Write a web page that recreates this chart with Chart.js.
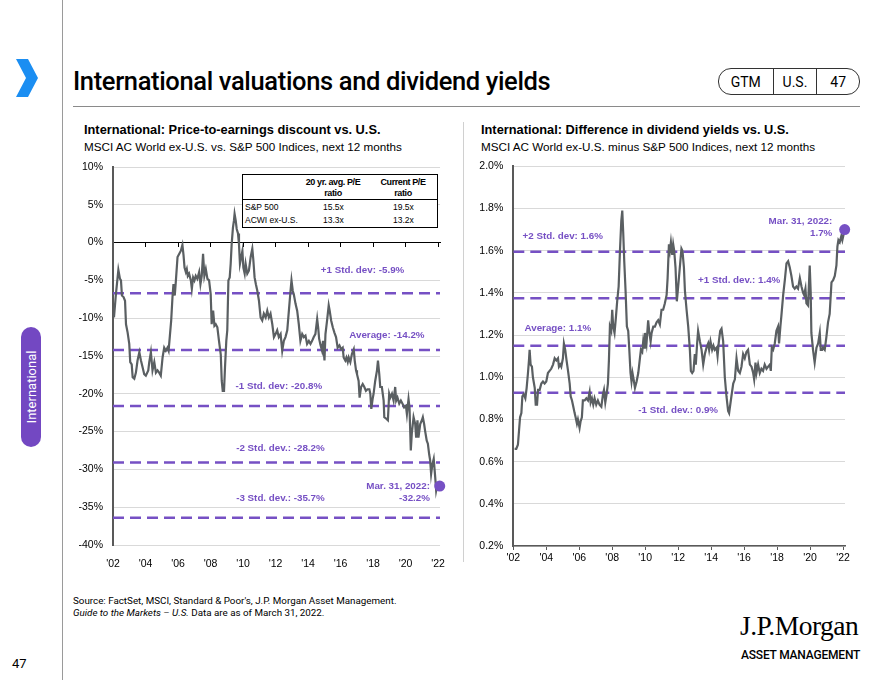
<!DOCTYPE html>
<html>
<head>
<meta charset="utf-8">
<script src="https://cdn.jsdelivr.net/npm/chart.js@4.4.0/dist/chart.umd.min.js"></script>
<style>
  body { margin: 0; width: 880px; height: 680px; position: relative; background: #fff; overflow: hidden;
         font-family: "Liberation Sans", Arial, sans-serif; color: #000; }
  .abs { position: absolute; white-space: nowrap; }
  .head { font-family: Roboto, "Liberation Sans", sans-serif; }
  .ctitle { font-weight: bold; font-size: 12.8px; line-height: 14px; }
  .csub { font-size: 11.7px; line-height: 14px; }
  .pill { left: 718px; top: 68px; width: 140px; height: 25px; border: 1px solid #333; border-radius: 13px; display: flex; font-size: 14px; }
  .pill div { display: flex; align-items: center; justify-content: center; }
  .tbl { left: 242px; top: 174px; width: 194px; height: 52px; border: 1px solid #000; background: #fff; font-size: 8.5px; }
  .tbl .h { position: absolute; font-weight: bold; text-align: center; line-height: 10.5px; font-size: 9px; letter-spacing: -0.4px; }
  .tbl .c { position: absolute; line-height: 10px; }
  canvas { position: absolute; }
</style>
</head>
<body>
<div class="abs" style="left:62px;top:0;width:1px;height:680px;background:#9a9a9a"></div>
<svg class="abs" style="left:16px;top:59px" width="24" height="38" viewBox="0 0 24 38">
  <polygon points="0,0 12,0 22,19 12,38 0,38 10,19" fill="#1b8ef2"/>
</svg>
<div class="abs head" style="left:73px;top:66px;font-size:25.5px;font-weight:500;letter-spacing:-0.35px">International valuations and dividend yields</div>
<div class="abs pill head">
  <div style="width:54px;border-right:1px solid #333">GTM</div>
  <div style="width:43px;border-right:1px solid #333">U.S.</div>
  <div style="width:42px">47</div>
</div>
<div class="abs" style="left:73px;top:106px;width:787px;height:1px;background:#8a8a8a"></div>

<div class="abs ctitle" style="left:84px;top:123px">International: Price-to-earnings discount vs. U.S.</div>
<div class="abs csub" style="left:84px;top:140px">MSCI AC World ex-U.S. vs. S&amp;P 500 Indices, next 12 months</div>
<div class="abs ctitle" style="left:481px;top:123px">International: Difference in dividend yields vs. U.S.</div>
<div class="abs csub" style="left:481px;top:140px">MSCI AC World ex-U.S. minus S&amp;P 500 Indices, next 12 months</div>
<div class="abs" style="left:463px;top:122px;width:1px;height:440px;background:#d0d0d0"></div>

<canvas id="peChart" width="387" height="425" style="left:63px;top:150px"></canvas>
<canvas id="dyChart" width="388" height="426" style="left:465px;top:150px"></canvas>

<div class="abs tbl">
  <div class="h" style="left:56px;top:2px;width:68px">20 yr. avg. P/E<br>ratio</div>
  <div class="h" style="left:128px;top:2px;width:64px">Current P/E<br>ratio</div>
  <div class="abs" style="left:0;top:24px;width:194px;height:1px;background:#000"></div>
  <div class="c" style="left:2px;top:27px">S&amp;P 500</div>
  <div class="c" style="left:80px;top:27px">15.5x</div>
  <div class="c" style="left:150px;top:27px">19.5x</div>
  <div class="c" style="left:2px;top:40px">ACWI ex-U.S.</div>
  <div class="c" style="left:80px;top:40px">13.3x</div>
  <div class="c" style="left:150px;top:40px">13.2x</div>
</div>

<div class="abs" style="left:21px;top:327px;width:20px;height:120px;background:#7348c2;border-radius:10px"></div>
<div class="abs head" style="left:31px;top:387px;transform:translate(-50%,-50%) rotate(-90deg);color:#fff;font-size:13px">International</div>

<div class="abs head" style="left:73px;top:595px;font-size:9.8px;line-height:12px">Source: FactSet, MSCI, Standard &amp; Poor's, J.P. Morgan Asset Management.<br><i>Guide to the Markets – U.S.</i> Data are as of March 31, 2022.</div>
<div class="abs" style="left:740px;top:610px;font-family:'Liberation Serif',serif;font-size:27.5px;letter-spacing:-0.5px">J.P.Morgan</div>
<div class="abs head" style="left:741px;top:648px;font-size:12px;letter-spacing:-0.2px;font-weight:500">ASSET MANAGEMENT</div>
<div class="abs head" style="left:12px;top:656px;font-size:13px">47</div>

<script>
const PURPLE = '#7650c4';
const LINE_GRAY = '#5a5f62';
const X_MIN = 2002;
const X_MAX = 2022.12;
const yearTicks = [2002, 2004, 2006, 2008, 2010, 2012, 2014, 2016, 2018, 2020, 2022];

// International P/E discount vs. U.S. (%)
const peDates = [
  2002.06, 2002.18, 2002.33, 2002.43, 2002.49, 2002.55, 2002.65, 2002.74, 2002.80, 2002.90,
  2003.00, 2003.06, 2003.15, 2003.21, 2003.31, 2003.41, 2003.51, 2003.62, 2003.72, 2003.82,
  2003.92, 2004.02, 2004.17, 2004.23, 2004.33, 2004.43, 2004.54, 2004.64, 2004.74, 2004.84,
  2004.94, 2005.05, 2005.15, 2005.25, 2005.35, 2005.42, 2005.50, 2005.58, 2005.66, 2005.72,
  2005.80, 2005.87, 2005.97, 2006.07, 2006.17, 2006.27, 2006.34, 2006.40, 2006.48, 2006.54,
  2006.60, 2006.68, 2006.79, 2006.85, 2006.93, 2007.01, 2007.09, 2007.19, 2007.30, 2007.38,
  2007.46, 2007.54, 2007.62, 2007.71, 2007.81, 2007.91, 2008.01, 2008.07, 2008.16, 2008.24,
  2008.32, 2008.42, 2008.52, 2008.63, 2008.69, 2008.75, 2008.83, 2008.89, 2008.97, 2009.03,
  2009.10, 2009.18, 2009.24, 2009.30, 2009.38, 2009.44, 2009.48, 2009.55, 2009.61, 2009.69,
  2009.75, 2009.81, 2009.89, 2009.96, 2010.02, 2010.10, 2010.16, 2010.26, 2010.36, 2010.47,
  2010.57, 2010.63, 2010.71, 2010.79, 2010.88, 2010.98, 2011.08, 2011.18, 2011.28, 2011.39,
  2011.49, 2011.59, 2011.69, 2011.80, 2011.90, 2012.00, 2012.10, 2012.20, 2012.31, 2012.41,
  2012.51, 2012.61, 2012.72, 2012.82, 2012.92, 2012.98, 2013.06, 2013.12, 2013.23, 2013.33,
  2013.43, 2013.53, 2013.64, 2013.74, 2013.84, 2013.94, 2014.05, 2014.15, 2014.25, 2014.35,
  2014.45, 2014.56, 2014.62, 2014.68, 2014.76, 2014.86, 2014.92, 2015.01, 2015.07, 2015.17,
  2015.27, 2015.33, 2015.42, 2015.52, 2015.62, 2015.72, 2015.82, 2015.93, 2016.03, 2016.13,
  2016.19, 2016.29, 2016.36, 2016.44, 2016.50, 2016.60, 2016.70, 2016.81, 2016.87, 2016.95,
  2017.01, 2017.11, 2017.17, 2017.26, 2017.36, 2017.46, 2017.56, 2017.66, 2017.77, 2017.83,
  2017.89, 2017.97, 2018.03, 2018.13, 2018.24, 2018.30, 2018.38, 2018.44, 2018.54, 2018.65,
  2018.69, 2018.81, 2018.91, 2018.99, 2019.06, 2019.16, 2019.26, 2019.36, 2019.42, 2019.50,
  2019.61, 2019.71, 2019.81, 2019.91, 2020.02, 2020.08, 2020.18, 2020.24, 2020.32, 2020.38,
  2020.49, 2020.59, 2020.65, 2020.73, 2020.79, 2020.90, 2021.00, 2021.06, 2021.14, 2021.20,
  2021.30, 2021.37, 2021.45, 2021.51, 2021.57, 2021.65, 2021.73, 2021.82, 2021.88, 2021.96,
  2022.10
];
const peDiscount = [
  -9.9, -6.8, -3.6, -4.8, -5.0, -7.0, -7.2, -7.7, -10.8, -11.9,
  -13.4, -15.8, -16.1, -17.8, -18.0, -17.2, -15.6, -14.5, -15.6, -16.5,
  -17.4, -17.6, -16.9, -15.8, -14.5, -16.9, -15.8, -17.2, -16.9, -17.2,
  -17.6, -15.2, -13.9, -14.3, -13.9, -14.3, -12.3, -10.3, -7.2, -5.5,
  -7.0, -5.0, -1.9, -1.5, -1.1, -0.3, -1.7, -3.3, -3.9, -3.5,
  -4.4, -4.1, -5.0, -6.1, -4.6, -5.0, -4.4, -4.8, -3.9, -5.5,
  -4.4, -1.5, -4.4, -3.5, -4.8, -5.0, -6.8, -10.8, -9.0, -11.0,
  -10.8, -11.2, -13.0, -14.8, -18.3, -19.6, -19.6, -16.5, -13.0, -11.6,
  -5.0, -4.6, -2.8, -0.2, 2.0, 2.9, 3.8, 2.9, 1.8, 1.2,
  -0.2, -2.8, -1.9, -1.1, -3.3, -4.1, -2.8, -4.1, -3.7, -1.9,
  -0.8, -2.2, -4.6, -5.5, -6.4, -7.7, -9.9, -10.3, -9.4, -9.9,
  -9.0, -9.9, -9.4, -10.8, -12.5, -12.1, -11.6, -12.5, -12.1, -14.3,
  -13.0, -12.5, -11.6, -9.0, -6.4, -5.0, -6.4, -6.8, -8.1, -9.0,
  -10.8, -13.0, -12.1, -12.5, -12.3, -13.4, -13.0, -13.4, -13.0, -12.5,
  -12.1, -10.1, -11.2, -12.7, -13.5, -14.3, -13.0, -15.6, -12.1, -10.3,
  -8.3, -9.0, -10.3, -11.2, -11.9, -12.5, -13.9, -13.6, -14.1, -13.9,
  -15.2, -15.6, -15.2, -15.8, -15.2, -15.8, -14.7, -14.1, -15.6, -16.9,
  -17.4, -18.3, -20.5, -19.1, -18.7, -19.1, -19.6, -19.4, -19.4, -20.0,
  -22.0, -20.7, -20.0, -18.3, -16.9, -15.6, -17.4, -19.1, -19.1, -20.9,
  -23.1, -23.3, -23.5, -20.0, -20.5, -20.0, -20.9, -19.1, -20.9, -20.5,
  -21.3, -20.9, -21.3, -21.8, -21.6, -22.7, -20.7, -21.8, -27.5, -25.3,
  -23.1, -24.0, -25.8, -23.5, -25.8, -24.0, -23.5, -23.1, -24.0, -24.9,
  -26.2, -26.6, -28.0, -28.8, -30.6, -29.3, -28.6, -31.0, -32.8, -31.9,
  -32.2
];
const peLevels = [-6.7, -14.2, -21.6, -29.1, -36.4];
const peLatest = { x: 2022.10, y: -32.2 };

// Difference in dividend yields, ACWI ex-U.S. minus S&P 500 (%)
const dyDates = [
  2002.08, 2002.18, 2002.28, 2002.35, 2002.41, 2002.49, 2002.55, 2002.63, 2002.73, 2002.81,
  2002.89, 2002.95, 2002.99, 2003.05, 2003.13, 2003.19, 2003.30, 2003.36, 2003.44, 2003.50,
  2003.60, 2003.70, 2003.80, 2003.90, 2004.00, 2004.10, 2004.20, 2004.30, 2004.41, 2004.51,
  2004.61, 2004.71, 2004.77, 2004.85, 2004.91, 2005.01, 2005.07, 2005.15, 2005.23, 2005.32,
  2005.42, 2005.48, 2005.56, 2005.64, 2005.72, 2005.78, 2005.86, 2005.92, 2006.02, 2006.08,
  2006.16, 2006.22, 2006.33, 2006.43, 2006.53, 2006.63, 2006.69, 2006.77, 2006.85, 2006.93,
  2007.03, 2007.13, 2007.23, 2007.34, 2007.44, 2007.50, 2007.58, 2007.66, 2007.74, 2007.80,
  2007.86, 2007.94, 2008.00, 2008.06, 2008.14, 2008.22, 2008.30, 2008.39, 2008.47, 2008.55,
  2008.61, 2008.67, 2008.73, 2008.81, 2008.89, 2008.97, 2009.03, 2009.11, 2009.17, 2009.23,
  2009.32, 2009.38, 2009.48, 2009.58, 2009.68, 2009.74, 2009.82, 2009.88, 2009.94, 2009.98,
  2010.08, 2010.18, 2010.24, 2010.33, 2010.39, 2010.49, 2010.59, 2010.69, 2010.79, 2010.89,
  2010.99, 2011.09, 2011.19, 2011.30, 2011.36, 2011.44, 2011.50, 2011.56, 2011.64, 2011.70,
  2011.76, 2011.84, 2011.92, 2012.00, 2012.10, 2012.20, 2012.26, 2012.35, 2012.41, 2012.51,
  2012.61, 2012.71, 2012.77, 2012.85, 2012.93, 2013.01, 2013.07, 2013.15, 2013.21, 2013.32,
  2013.42, 2013.52, 2013.62, 2013.72, 2013.82, 2013.88, 2013.96, 2014.06, 2014.14, 2014.22,
  2014.33, 2014.39, 2014.47, 2014.55, 2014.63, 2014.73, 2014.83, 2014.93, 2015.03, 2015.09,
  2015.23, 2015.34, 2015.44, 2015.54, 2015.64, 2015.74, 2015.84, 2015.94, 2016.04, 2016.14,
  2016.24, 2016.35, 2016.45, 2016.55, 2016.61, 2016.69, 2016.75, 2016.85, 2016.95, 2017.05,
  2017.15, 2017.25, 2017.36, 2017.46, 2017.56, 2017.62, 2017.68, 2017.76, 2017.86, 2017.96,
  2018.06, 2018.12, 2018.20, 2018.26, 2018.37, 2018.47, 2018.57, 2018.67, 2018.77, 2018.87,
  2018.97, 2019.07, 2019.17, 2019.27, 2019.38, 2019.48, 2019.58, 2019.64, 2019.72, 2019.78,
  2019.88, 2019.98, 2020.04, 2020.08, 2020.18, 2020.28, 2020.39, 2020.49, 2020.59, 2020.65,
  2020.73, 2020.79, 2020.89, 2020.99, 2021.09, 2021.19, 2021.30, 2021.40, 2021.50, 2021.60,
  2021.66, 2021.72, 2021.80, 2021.90, 2021.96, 2022.10
];
const dyDiff = [
  0.66, 0.66, 0.68, 0.75, 0.81, 0.83, 0.91, 0.92, 0.90, 0.95,
  1.02, 1.08, 1.13, 1.06, 1.05, 1.00, 0.95, 0.87, 0.87, 0.94,
  0.94, 0.97, 0.98, 0.97, 0.98, 1.02, 1.03, 1.04, 1.06, 1.09,
  1.08, 1.09, 1.05, 1.06, 1.05, 1.09, 1.16, 1.13, 1.08, 1.03,
  0.97, 0.91, 0.89, 0.86, 0.83, 0.81, 0.78, 0.80, 0.76, 0.79,
  0.81, 0.89, 0.89, 0.90, 0.89, 0.93, 0.88, 0.90, 0.87, 0.90,
  0.87, 0.89, 0.87, 0.86, 0.92, 0.94, 0.88, 0.92, 0.97, 1.08,
  1.24, 1.22, 1.32, 1.24, 1.21, 1.28, 1.36, 1.43, 1.60, 1.74,
  1.79, 1.68, 1.55, 1.41, 1.24, 1.22, 1.14, 1.02, 0.98, 1.02,
  0.98, 0.95, 0.98, 1.02, 1.09, 1.13, 1.12, 1.17, 1.14, 1.21,
  1.16, 1.27, 1.22, 1.17, 1.21, 1.24, 1.24, 1.26, 1.27, 1.25,
  1.32, 1.32, 1.35, 1.39, 1.47, 1.63, 1.60, 1.64, 1.58, 1.63,
  1.60, 1.52, 1.36, 1.43, 1.52, 1.61, 1.60, 1.52, 1.41, 1.32,
  1.24, 1.13, 1.03, 1.02, 1.03, 1.11, 1.06, 1.16, 1.22, 1.17,
  1.13, 1.06, 1.11, 1.14, 1.16, 1.13, 1.17, 1.13, 1.15, 1.13,
  1.14, 1.10, 1.17, 1.22, 1.23, 1.17, 1.00, 0.91, 0.84, 0.83,
  0.91, 0.97, 0.99, 1.09, 1.03, 1.02, 1.05, 1.11, 1.09, 1.12,
  1.13, 1.06, 1.05, 1.02, 0.99, 1.07, 1.02, 1.06, 1.02, 1.04,
  1.03, 1.06, 1.04, 1.05, 1.06, 1.03, 1.14, 1.13, 1.16, 1.22,
  1.24, 1.16, 1.24, 1.29, 1.39, 1.46, 1.54, 1.55, 1.52, 1.48,
  1.43, 1.42, 1.43, 1.42, 1.47, 1.43, 1.40, 1.39, 1.42, 1.35,
  1.34, 1.53, 1.40, 1.21, 1.13, 1.07, 1.14, 1.16, 1.21, 1.13,
  1.13, 1.14, 1.13, 1.19, 1.26, 1.30, 1.45, 1.46, 1.48, 1.53,
  1.62, 1.65, 1.64, 1.67, 1.65, 1.70
];
const dyLevels = [1.595, 1.375, 1.149, 0.927];
const dyLatest = { x: 2022.10, y: 1.70 };

// text notes placed in data coordinates
const peNotes = [
  { x: 2017.35, y: -3.7, text: ['+1 Std. dev: -5.9%'] },
  { x: 2018.85, y: -12.2, text: ['Average: -14.2%'] },
  { x: 2012.2, y: -19.0, text: ['-1 Std. dev: -20.8%'] },
  { x: 2012.3, y: -27.15, text: ['-2 Std. dev.: -28.2%'] },
  { x: 2012.3, y: -33.8, text: ['-3 Std. dev.: -35.7%'] },
  { x: 2021.5, y: -32.2, text: ['Mar. 31, 2022:', '-32.2%'], align: 'right' }
];
const dyNotes = [
  { x: 2005.0, y: 1.670, text: ['+2 Std. dev: 1.6%'] },
  { x: 2015.7, y: 1.458, text: ['+1 Std. dev.: 1.4%'] },
  { x: 2004.7, y: 1.233, text: ['Average: 1.1%'] },
  { x: 2012.0, y: 0.841, text: ['-1 Std. dev.: 0.9%'] },
  { x: 2021.35, y: 1.741, text: ['Mar. 31, 2022:', '1.7%'], align: 'right' }
];

Chart.defaults.font.family = '"Liberation Sans", Arial, sans-serif';
Chart.defaults.font.size = 10.5;
Chart.defaults.color = '#000';

const notesPlugin = {
  id: 'notes',
  afterDatasetsDraw(chart, args, opts) {
    const { ctx, scales } = chart;
    ctx.save();
    ctx.font = 'bold 9.8px "Liberation Sans", Arial, sans-serif';
    ctx.fillStyle = PURPLE;
    ctx.textBaseline = 'middle';
    (opts.items || []).forEach(n => {
      ctx.textAlign = n.align || 'center';
      const px = scales.x.getPixelForValue(n.x);
      const py = scales.y.getPixelForValue(n.y);
      n.text.forEach((t, i) => ctx.fillText(t, px, py + i * 12.4));
    });
    ctx.restore();
  }
};

function toPoints(xs, ys) {
  return xs.map((x, i) => ({ x: x, y: ys[i] }));
}

function buildDatasets(xs, ys, levels, latest) {
  const sets = [
    { data: [latest], showLine: false, clip: false, pointRadius: 5.5, pointBackgroundColor: PURPLE, pointBorderWidth: 0 },
    { data: toPoints(xs, ys), borderColor: LINE_GRAY, borderWidth: 2.2, pointRadius: 0, tension: 0 }
  ];
  levels.forEach(v => sets.push({
    data: [{ x: X_MIN, y: v }, { x: X_MAX, y: v }],
    borderColor: PURPLE, borderWidth: 2.5, borderDash: [11, 6], pointRadius: 0
  }));
  return sets;
}

function xAxis(extra) {
  return Object.assign({
    type: 'linear', min: X_MIN, max: X_MAX,
    afterBuildTicks: s => { s.ticks = yearTicks.map(v => ({ value: v })); },
    afterFit: s => { s.height = 30; },
    ticks: { callback: v => "'" + String(v).slice(2), padding: 5, maxRotation: 0, autoSkip: false }
  }, extra);
}

new Chart(document.getElementById('peChart'), {
  type: 'line',
  data: { datasets: buildDatasets(peDates, peDiscount, peLevels, peLatest) },
  plugins: [notesPlugin],
  options: {
    responsive: false, animation: false,
    layout: { padding: { top: 17, right: 8, left: 0, bottom: 0 } },
    plugins: { legend: { display: false }, tooltip: { enabled: false }, notes: { items: peNotes } },
    scales: {
      x: xAxis({ grid: { display: false }, border: { display: false } }),
      x0: {
        type: 'linear', min: X_MIN, max: X_MAX, position: { y: 0 },
        afterBuildTicks: s => { s.ticks = yearTicks.map(v => ({ value: v })); },
        afterFit: s => { s.height = 0; },
        grid: { drawOnChartArea: false, drawTicks: true, tickLength: 4, color: '#000' },
        border: { color: '#000', width: 1 },
        ticks: { display: false }
      },
      y: {
        min: -40, max: 10,
        afterFit: s => { s.width = 50; },
        ticks: { stepSize: 5, padding: 10, callback: v => v + '%' },
        grid: { color: c => c.tick.value === 0 ? '#000' : '#d9d9d9', drawTicks: false },
        border: { color: '#595959', width: 2 }
      }
    }
  }
});

new Chart(document.getElementById('dyChart'), {
  type: 'line',
  data: { datasets: buildDatasets(dyDates, dyDiff, dyLevels, dyLatest) },
  plugins: [notesPlugin],
  options: {
    responsive: false, animation: false,
    layout: { padding: { top: 14, right: 8, left: 0, bottom: 0 } },
    plugins: { legend: { display: false }, tooltip: { enabled: false }, notes: { items: dyNotes } },
    scales: {
      x: xAxis({
        grid: { drawOnChartArea: false, drawTicks: true, tickLength: 4, color: '#595959' },
        border: { color: '#595959', width: 1.5 },
        ticks: { callback: v => "'" + String(v).slice(2), padding: 2, maxRotation: 0, autoSkip: false }
      }),
      y: {
        min: 0.2, max: 2.0,
        afterFit: s => { s.width = 48.3; },
        ticks: { stepSize: 0.2, padding: 10, callback: v => v.toFixed(1) + '%' },
        grid: { color: '#d9d9d9', drawTicks: false },
        border: { color: '#595959', width: 2 }
      }
    }
  }
});
</script>
</body>
</html>
